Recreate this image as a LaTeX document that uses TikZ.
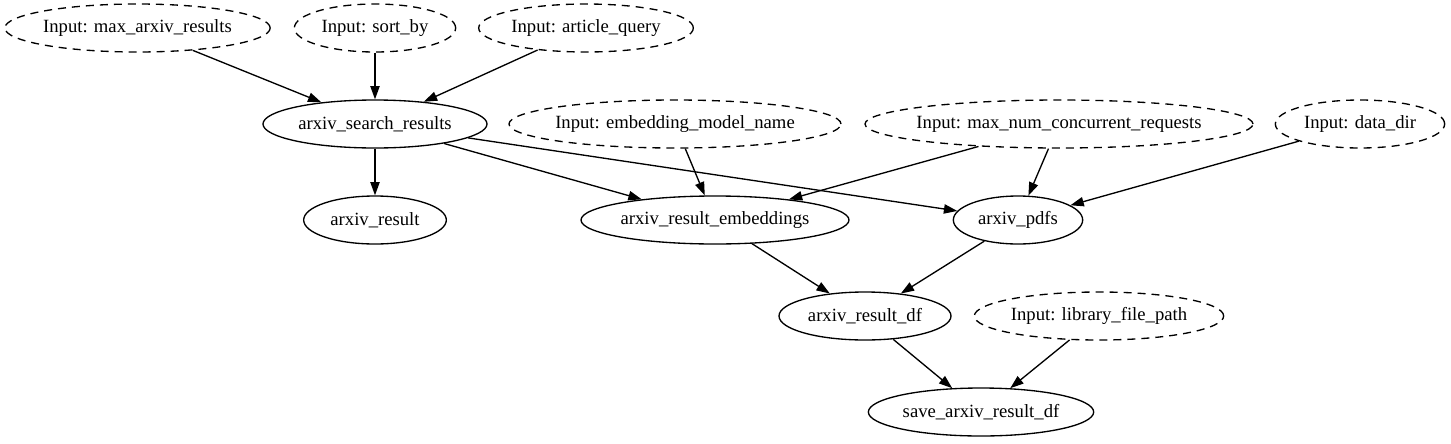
\documentclass[tikz,border=0pt]{standalone}
\usepackage{fontspec}
\setmainfont{Liberation Serif}
\usetikzlibrary{shapes.geometric, arrows.meta}

\begin{document}
\begin{tikzpicture}[x=0.75pt, y=-0.75pt, line width=1pt,
    >={Triangle[length=10pt,width=7pt]},
    font=\fontsize{14}{16}\selectfont,
    fn/.style={draw, ellipse, minimum height=36pt, inner xsep=-12pt, inner ysep=2pt},
    param/.style={fn, dash pattern=on 6pt off 4.5pt}]
    \useasboundingbox (0,0) rectangle (1451,443);

    % inputs
    \node[param, minimum width=199pt] (maxResults) at (137.5,28) {Input: max\_arxiv\_results};
    \node[param, minimum width=121pt] (sortBy) at (375,28) {Input: sort\_by};
    \node[param, minimum width=161pt] (articleQuery) at (586,28) {Input: article\_query};
    \node[param, minimum width=249pt] (modelName) at (675,124) {Input: embedding\_model\_name};
    \node[param, minimum width=291pt] (maxRequests) at (1059,124) {Input: max\_num\_concurrent\_requests};
    \node[param, minimum width=127pt] (dataDir) at (1360,124) {Input: data\_dir};
    \node[param, minimum width=187pt] (libraryPath) at (1099,316) {Input: library\_file\_path};

    % functions
    \node[fn, minimum width=168pt] (searchResults) at (375,124) {arxiv\_search\_results};
    \node[fn, minimum width=107pt] (result) at (375,220) {arxiv\_result};
    \node[fn, minimum width=201pt] (embeddings) at (715,220) {arxiv\_result\_embeddings};
    \node[fn, minimum width=97pt] (pdfs) at (1018,220) {arxiv\_pdfs};
    \node[fn, minimum width=129pt] (resultDf) at (865,316) {arxiv\_result\_df};
    \node[fn, minimum width=169pt] (saveDf) at (981,412) {save\_arxiv\_result\_df};

    % edges
    \draw[->] (maxResults) -- (searchResults);
    \draw[->] (sortBy) -- (searchResults);
    \draw[->] (articleQuery) -- (searchResults);
    \draw[->] (searchResults) -- (result);
    \draw[->] (searchResults) -- (embeddings);
    \draw[->] (searchResults) -- (pdfs);
    \draw[->] (modelName) -- (embeddings);
    \draw[->] (maxRequests) -- (embeddings);
    \draw[->] (maxRequests) -- (pdfs);
    \draw[->] (dataDir) -- (pdfs);
    \draw[->] (embeddings) -- (resultDf);
    \draw[->] (pdfs) -- (resultDf);
    \draw[->] (resultDf) -- (saveDf);
    \draw[->] (libraryPath) -- (saveDf);
\end{tikzpicture}
\end{document}
